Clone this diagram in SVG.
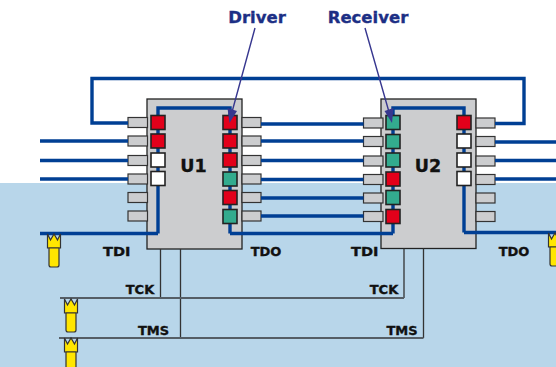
<svg xmlns="http://www.w3.org/2000/svg" width="556" height="367" viewBox="0 0 556 367">
<style>
text{font-family:"DejaVu Sans",Verdana,sans-serif;font-weight:700;fill:#111;stroke:#111;stroke-width:.35}
.lbl{font-size:13px}
.u{font-size:17.5px}
.hd{font-size:16.5px;fill:#1c2f85;stroke:#1c2f85}
.chip{fill:#cccdcf;stroke:#222;stroke-width:1.3}
.pin{fill:#cccdcf;stroke:#333;stroke-width:1.2}
.r{fill:#e2001a;stroke:#222;stroke-width:1.6}
.g{fill:#33ab8e;stroke:#222;stroke-width:1.6}
.w{fill:#fff;stroke:#222;stroke-width:1.6}
.bus{fill:none;stroke:#003f94;stroke-width:3.4}
.thin{fill:none;stroke:#333;stroke-width:1.3}
.grey{fill:none;stroke:#555e66;stroke-width:1.8}
.arr{fill:none;stroke:#37378f;stroke-width:1.4}
.head{fill:#37378f}
.probe{fill:#ffe600;stroke:#333;stroke-width:1.2}
</style>
<defs>
<g id="probe"><path class="probe" d="M-6.500 0 L-3.500 6 L0 0 L3.500 6 L6.500 0 V14 H-6.500Z"/><path class="probe" d="M-5 14 H5 V31 Q5 33 3 33 H-3 Q-5 33 -5 31Z"/></g>
</defs>
<rect x="0" y="183" width="556" height="184" fill="#b8d6ea"/>
<g id="U1">
<rect class="chip" x="147" y="99" width="95" height="150"/>
<g>
<rect class="pin" x="128" y="117.500" width="19.500" height="10"/><rect class="pin" x="128" y="136" width="19.500" height="10"/><rect class="pin" x="128" y="155.500" width="19.500" height="10"/><rect class="pin" x="128" y="174" width="19.500" height="10"/><rect class="pin" x="128" y="192.500" width="19.500" height="10"/><rect class="pin" x="128" y="211" width="19.500" height="10"/>
<rect class="pin" x="242" y="117.500" width="19" height="10"/><rect class="pin" x="242" y="136" width="19" height="10"/><rect class="pin" x="242" y="155.500" width="19" height="10"/><rect class="pin" x="242" y="174" width="19" height="10"/><rect class="pin" x="242" y="192.500" width="19" height="10"/><rect class="pin" x="242" y="211" width="19" height="10"/>
</g>
<path class="bus" d="M158 233.500V108H230V233.500"/>
<rect class="r" x="151" y="115.500" width="14" height="14"/><rect class="r" x="151" y="134" width="14" height="14"/><rect class="w" x="151" y="153" width="14" height="14"/><rect class="w" x="151" y="171.500" width="14" height="14"/>
<rect class="r" x="223" y="115.500" width="14" height="14"/><rect class="r" x="223" y="134" width="14" height="14"/><rect class="r" x="223" y="153" width="14" height="14"/><rect class="g" x="223" y="172" width="14" height="14"/><rect class="r" x="223" y="190.500" width="14" height="14"/><rect class="g" x="223" y="209.500" width="14" height="14"/>
<text class="u" x="193.500" y="172" text-anchor="middle">U1</text>
</g>
<g id="U2">
<rect class="chip" x="381" y="99" width="95" height="149.500"/>
<g>
<rect class="pin" x="363.500" y="118" width="19.500" height="10"/><rect class="pin" x="363.500" y="136.500" width="19.500" height="10"/><rect class="pin" x="363.500" y="156" width="19.500" height="10"/><rect class="pin" x="363.500" y="174.500" width="19.500" height="10"/><rect class="pin" x="363.500" y="193" width="19.500" height="10"/><rect class="pin" x="363.500" y="211.500" width="19.500" height="10"/>
<rect class="pin" x="476" y="118" width="19" height="10"/><rect class="pin" x="476" y="136.500" width="19" height="10"/><rect class="pin" x="476" y="156" width="19" height="10"/><rect class="pin" x="476" y="174.500" width="19" height="10"/><rect class="pin" x="476" y="193" width="19" height="10"/><rect class="pin" x="476" y="211.500" width="19" height="10"/>
</g>
<path class="bus" d="M393 233.500V108H464V232.500"/>
<rect class="g" x="386" y="115.500" width="14" height="14"/><rect class="g" x="386" y="134.500" width="14" height="14"/><rect class="g" x="386" y="153" width="14" height="14"/><rect class="r" x="386" y="172" width="14" height="14"/><rect class="g" x="386" y="190.500" width="14" height="14"/><rect class="r" x="386" y="209.500" width="14" height="14"/>
<rect class="r" x="457" y="115.500" width="14" height="14"/><rect class="w" x="457" y="134" width="14" height="14"/><rect class="w" x="457" y="153" width="14" height="14"/><rect class="w" x="457" y="171.500" width="14" height="14"/>
<text class="u" x="428" y="172" text-anchor="middle">U2</text>
</g>
<g id="connectors">
<path class="bus" d="M128 123H92V78.500H524V123.500H495"/>
<path class="bus" d="M40 141H128M40 160.500H128M40 179H128"/>
<path class="bus" d="M261 124H363.500M261 141H363.500M261 160.500H363.500M261 179.500H363.500M261 198H363.500M261 216H363.500"/>
<path class="bus" d="M495 142H556M495 160.500H556M495 179H556"/>
<path class="bus" d="M40 233.500H158M230 233.500H393M464 232.500H556"/>
<path class="thin" d="M160.500 249V298M180.500 249V338M404 248.500V298M423.500 248.500V338"/>
<path class="grey" d="M60 298H404M59 338H423.500"/>
<path class="arr" d="M255 28L232 112M365 28L389 112"/>
<path class="head" d="M227.500 108L237 111L229.500 123Z"/>
<path class="head" d="M384.500 111L393.500 108L392 123Z"/>
</g>
<g id="probes">
<use href="#probe" x="54" y="234"/>
<use href="#probe" x="71" y="299"/>
<use href="#probe" x="71" y="338"/>
<use href="#probe" x="555" y="233"/>
</g>
<g id="labels">
<text class="hd" x="257" y="23" text-anchor="middle">Driver</text>
<text class="hd" x="368" y="23" text-anchor="middle">Receiver</text>
<text class="lbl" x="103" y="255.500" textLength="27.500" lengthAdjust="spacingAndGlyphs">TDI</text>
<text class="lbl" x="266" y="255.500" text-anchor="middle">TDO</text>
<text class="lbl" x="351" y="255.500" textLength="27.500" lengthAdjust="spacingAndGlyphs">TDI</text>
<text class="lbl" x="514" y="255.500" text-anchor="middle">TDO</text>
<text class="lbl" x="140" y="294" text-anchor="middle">TCK</text>
<text class="lbl" x="384" y="294" text-anchor="middle">TCK</text>
<text class="lbl" x="153.500" y="334.500" text-anchor="middle">TMS</text>
<text class="lbl" x="402" y="334.500" text-anchor="middle">TMS</text>
</g>
</svg>
